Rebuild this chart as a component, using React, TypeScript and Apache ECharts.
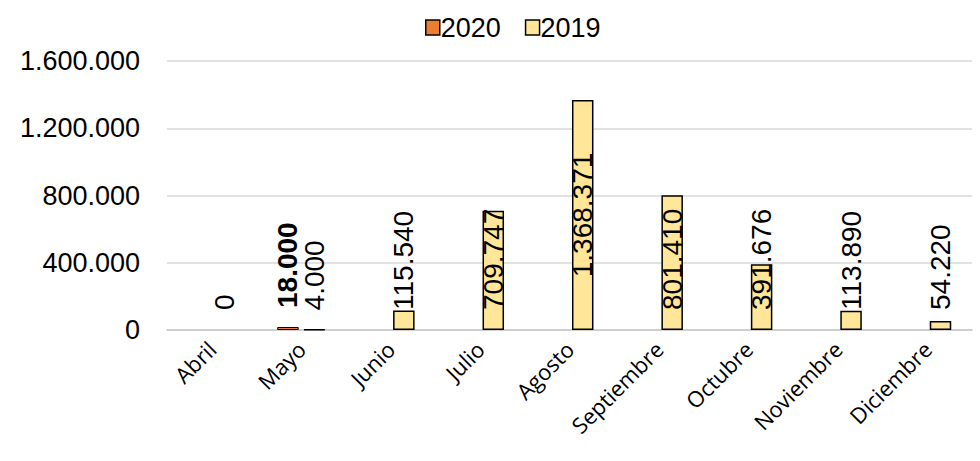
import React, { useEffect, useRef } from "react";
import * as echarts from "echarts";

const categories = ["Abril", "Mayo", "Junio", "Julio", "Agosto", "Septiembre", "Octubre", "Noviembre", "Diciembre"];
const values2020: (number | null)[] = [null, 18000, null, null, null, null, null, null, null];
const values2019: number[] = [0, 4000, 115540, 709747, 1368371, 801410, 391676, 113890, 54220];
const yTicks = { min: 0, max: 1600000, interval: 400000 };

const fmt = (v: number) => String(Math.round(v)).replace(/\B(?=(\d{3})+(?!\d))/g, ".");

const baseLabel = {
  show: true,
  position: "insideBottom",
  distance: 20,
  rotate: 90,
  align: "left",
  verticalAlign: "middle",
  fontFamily: "Liberation Sans",
  fontSize: 28,
  color: "#000",
  formatter: (p: any) => fmt(p.value),
};

export default function App() {
  const ref = useRef<HTMLDivElement>(null);
  useEffect(() => {
    if (!ref.current) return;
    const chart = echarts.init(ref.current, null, { renderer: "svg" });
    const maxIdx = values2019.indexOf(Math.max(...values2019));
    chart.setOption({
      animation: false,
      backgroundColor: "#fff",
      legend: {
        top: 9,
        left: 420,
        icon: "rect",
        itemWidth: 14,
        itemHeight: 15,
        itemGap: 24,
        textStyle: { fontFamily: "Liberation Sans", fontSize: 27, color: "#000", padding: [0, 0, 0, -4] },
        data: [
          { name: "2020", itemStyle: { borderColor: "#000", borderWidth: 1.5 } },
          { name: "2019", itemStyle: { borderColor: "#000", borderWidth: 1.5 } },
        ],
      },
      grid: { left: 167, right: 8, top: 61, bottom: 131, containLabel: false },
      xAxis: {
        type: "category",
        data: categories,
        z: 0,
        axisLine: { show: true, lineStyle: { color: "#c8c8c8", width: 1.5 } },
        axisTick: { show: false },
        axisLabel: {
          rotate: 45,
          interval: 0,
          margin: 15,
          fontFamily: "Open Sans",
          fontSize: 22,
          color: "#000",
        },
      },
      yAxis: {
        type: "value",
        min: yTicks.min,
        max: yTicks.max,
        interval: yTicks.interval,
        axisLine: { show: false },
        axisTick: { show: false },
        splitLine: { lineStyle: { color: "#d9d9d9", width: 1.5 } },
        axisLabel: {
          formatter: (v: number) => fmt(v),
          fontFamily: "Liberation Sans",
          fontSize: 27,
          color: "#000",
          margin: 27,
        },
      },
      series: [
        {
          name: "2020",
          type: "bar",
          z: 5,
          barWidth: 21.5,
          barGap: "23%",
          barMinHeight: 3,
          itemStyle: { color: "#ED7D31", borderColor: "#000", borderWidth: 1 },
          label: { ...baseLabel, distance: 22, fontWeight: "bold" },
          data: values2020.map((v) => (v === null ? null : { value: v })),
        },
        {
          name: "2019",
          type: "bar",
          z: 5,
          barWidth: 21.5,
          barGap: "23%",
          itemStyle: { color: "#FFE699", borderColor: "#000", borderWidth: 1.5 },
          label: { ...baseLabel },
          data: values2019.map((v, i) => {
            const item: any = { value: v };
            if (v === 0) item.itemStyle = { borderWidth: 0 };
            if (i === maxIdx)
              item.label = { position: "inside", align: "center", verticalAlign: "middle", rotate: 90 };
            return item;
          }),
        },
      ],
    });
    return () => chart.dispose();
  }, []);
  return <div ref={ref} style={{ position: "fixed", left: 0, top: 0, width: 980, height: 461 }} />;
}
